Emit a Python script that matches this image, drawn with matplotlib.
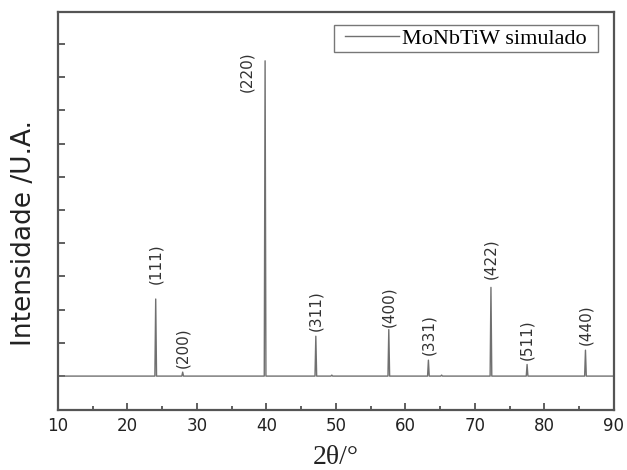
import matplotlib
matplotlib.use("Agg")
import matplotlib.pyplot as plt
from matplotlib.patches import Rectangle
import numpy as np

# picos (2theta, intensidade relativa)
peak_pos = [24.06, 27.94, 39.8, 47.1, 49.4, 57.6, 63.3, 65.2, 72.3, 77.5, 85.9]
peak_int = [2.32, 0.12, 9.49, 1.20, 0.03, 1.40, 0.48, 0.03, 2.67, 0.35, 0.78]
hkl_pos = [24.06, 27.94, 39.8, 47.1, 57.6, 63.3, 72.3, 77.5, 85.9]
hkl_int = [2.32, 0.12, 9.49, 1.20, 1.40, 0.48, 2.67, 0.35, 0.78]
hkl_labels = ["(111)", "(200)", "(220)", "(311)", "(400)", "(331)", "(422)", "(511)", "(440)"]

# monta o difratograma: linha base com picos estreitos
hw = 0.12
x = [10.0]
y = [0.0]
for p, h in zip(peak_pos, peak_int):
    x += [p - hw, p, p + hw]
    y += [0.0, h, 0.0]
x.append(90.0)
y.append(0.0)

fig = plt.figure(figsize=(6.27, 4.70), dpi=100)
ax = fig.add_axes([0.0925, 0.1277, 0.8867, 0.8468])

ax.plot(x, y, color="#707070", lw=1.0, label="MoNbTiW simulado")

# deslocamento (pontos) de cada rotulo acima do pico
offs = {"(111)": 11, "(200)": 3, "(311)": 4, "(400)": 2, "(331)": 4,
        "(422)": 6, "(511)": 3, "(440)": 4}
for p, h, lab in zip(hkl_pos, hkl_int, hkl_labels):
    if lab == "(220)":
        ax.annotate(lab, (p, h), xytext=(-13, -8), textcoords="offset points",
                    rotation=90, ha="center", va="center", fontsize=11, color="#333333")
    else:
        ax.annotate(lab, (p, h), xytext=(0, offs[lab]), textcoords="offset points",
                    rotation=90, ha="center", va="bottom", fontsize=11, color="#333333")

ax.set_xlim(10, 90)
ax.set_ylim(-1.02, 10.96)
ax.set_xticks(np.arange(10, 91, 10))
ax.set_xticks(np.arange(15, 90, 10), minor=True)
ax.set_yticks(np.arange(0, 11, 1))
ax.set_yticklabels([])
ax.tick_params(direction="in", length=5, width=1.2, color="#444444", labelsize=12,
               labelcolor="#222222", pad=5)
ax.tick_params(which="minor", direction="in", length=3, width=1.2, color="#444444")
for s in ax.spines.values():
    s.set_color("#555555")
    s.set_linewidth(1.6)

ax.set_xlabel("2θ/°", fontsize=20, family="Liberation Serif", color="#222222", labelpad=7)
ax.set_ylabel("Intensidade /U.A.", fontsize=19, color="#222222")
ax.yaxis.set_label_coords(-0.037, 0.445)

# legenda sem moldura; a moldura e desenhada depois com mais folga lateral
leg = ax.legend(loc="upper right", bbox_to_anchor=(0.953, 0.962),
                prop={"family": "Liberation Serif", "size": 16},
                frameon=False, borderaxespad=0, handlelength=2.4,
                handletextpad=0.15, borderpad=0.05)
fig.canvas.draw()
bb = leg.get_window_extent().transformed(fig.transFigure.inverted())
padx = 10 / fig.bbox.width
pady = 2 / fig.bbox.height
fig.add_artist(Rectangle((bb.x0 - padx, bb.y0 - pady), bb.width + 2 * padx,
                         bb.height + 2 * pady, transform=fig.transFigure, fill=False,
                         edgecolor="#777777", lw=1.0))

fig.savefig("out.png", dpi=100)
